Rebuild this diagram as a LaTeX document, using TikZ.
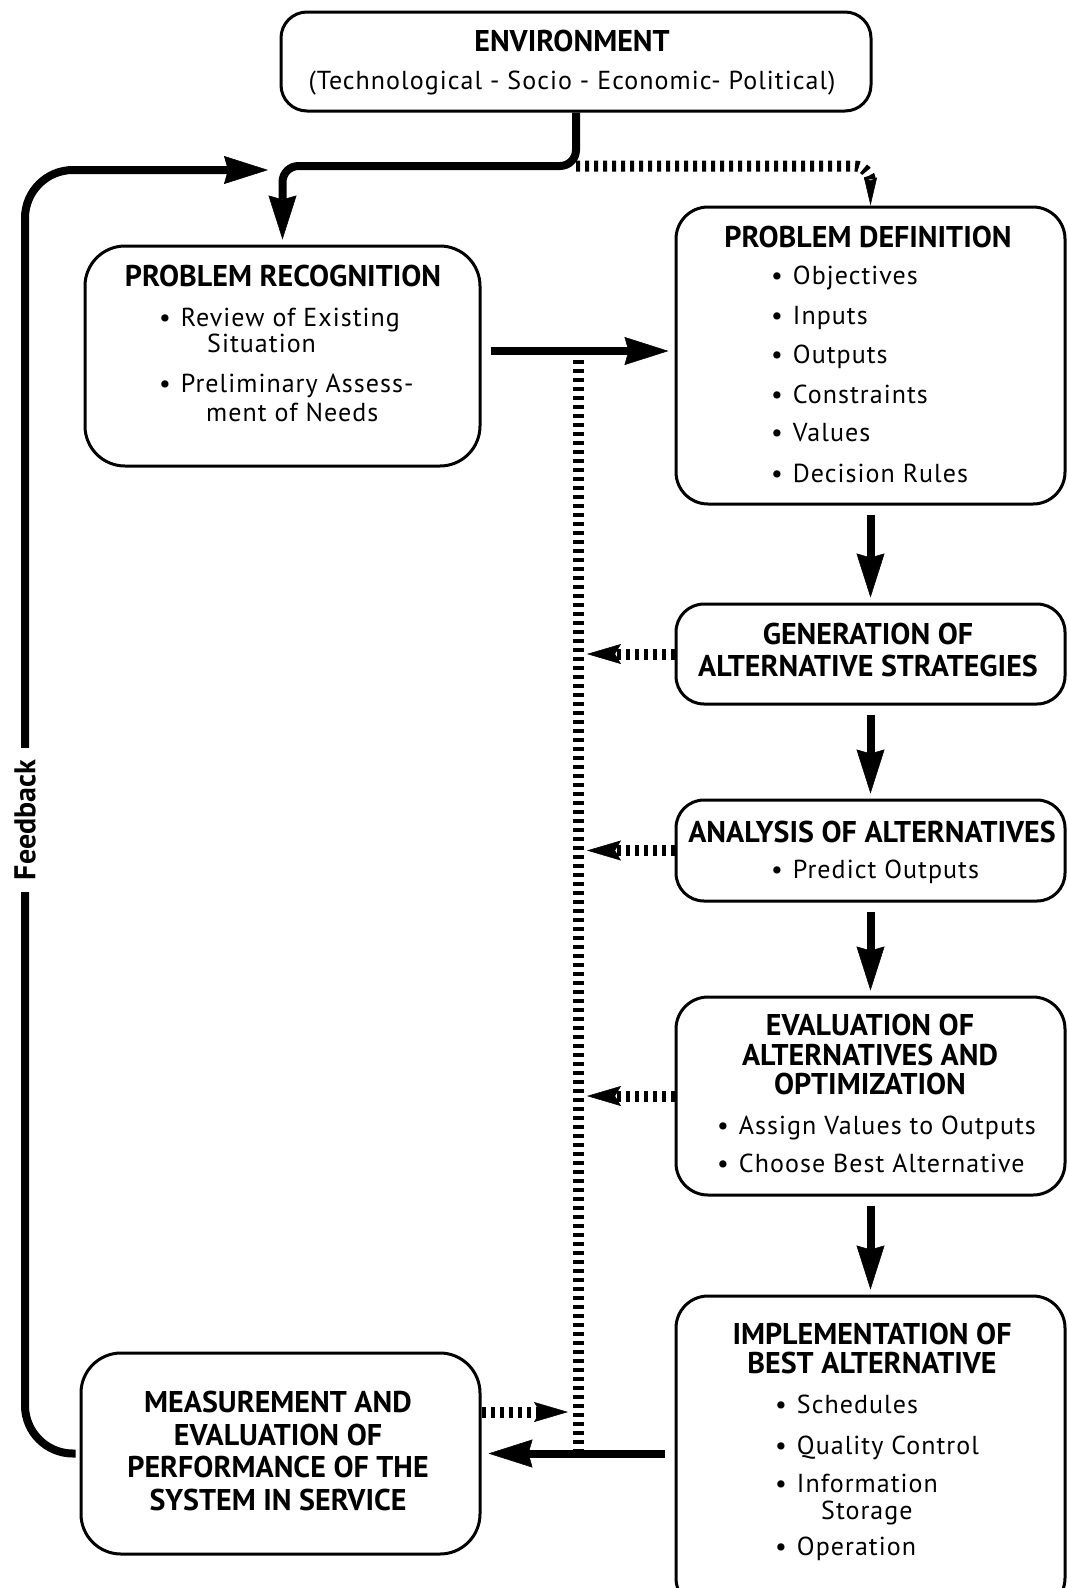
\documentclass[tikz,border=0pt]{standalone}
\usepackage{fontspec}
\setmainfont{PT Sans}
\newfontfamily\itmface[LetterSpace=4]{PT Sans}
\usetikzlibrary{arrows.meta}
\newcommand\ttlfont{\fontsize{30}{32}\selectfont\bfseries}
\newcommand\itmfont{\itmface\fontsize{26}{30}\selectfont}
\begin{document}
\begin{tikzpicture}[x=1pt,y=-1pt,
  box/.style={draw, line width=3pt, rounded corners=32pt, inner sep=0pt},
  ttl/.style={font=\ttlfont, align=center, inner sep=0pt},
  itm/.style={font=\itmfont, anchor=base west, inner sep=0pt},
  flow/.style={line width=8pt, -{Stealth[length=44pt,width=28pt,inset=4pt,line width=0.5pt]}},
  hint/.style={line width=11pt, dash pattern=on 4pt off 5pt,
    -{Stealth[length=34pt,width=20pt,inset=6pt,line width=0.5pt]}},
  hintthin/.style={line width=11pt, dash pattern=on 4pt off 5pt,
    -{Stealth[length=28pt,width=13pt,inset=3pt,line width=0.5pt]}},
  bus/.style={line width=11pt, dash pattern=on 4pt off 5pt},
]
\clip (0,0) rectangle (1068,1588);
\fill[white] (0,0) rectangle (1068,1588);

% boxes
\node[box, minimum width=590pt, minimum height=99pt, rounded corners=26pt] (env) at (576,61.5) {};
\node[box, minimum width=395pt, minimum height=220pt, rounded corners=40pt] (pr) at (282.5,356) {};
\node[box, minimum width=389pt, minimum height=297pt] (pd) at (870.5,355.5) {};
\node[box, minimum width=389pt, minimum height=100pt, rounded corners=28pt] (gen) at (870.5,654) {};
\node[box, minimum width=389pt, minimum height=101pt, rounded corners=28pt] (ana) at (870.5,850.5) {};
\node[box, minimum width=389pt, minimum height=198pt] (eval) at (870.5,1096) {};
\node[box, minimum width=389pt, minimum height=314pt] (impl) at (870.5,1453) {};
\node[box, minimum width=399pt, minimum height=201pt, rounded corners=40pt] (meas) at (280.5,1453.5) {};

% texts
\node[ttl] (envT) at (572,40.5) {ENVIRONMENT};
\node[itm, anchor=base] (envS) at (572,89) {(Technological - Socio - Economic- Political)};

\node[ttl] (prT) at (283,276) {PROBLEM RECOGNITION};
\node[itm] (pr1) at (159,326) {\textbullet\hspace{10pt}Review of Existing};
\node[itm] (pr1b) at (207,352) {Situation};
\node[itm] (pr2) at (159,392) {\textbullet\hspace{10pt}Preliminary Assess-};
\node[itm] (pr2b) at (206,421) {ment of Needs};

\node[ttl] (pdT) at (868,237) {PROBLEM DEFINITION};
\node[itm] (pd1) at (771,284) {\textbullet\hspace{10pt}Objectives};
\node[itm] (pd2) at (771,324) {\textbullet\hspace{10pt}Inputs};
\node[itm] (pd3) at (771,363) {\textbullet\hspace{10pt}Outputs};
\node[itm] (pd4) at (771,403) {\textbullet\hspace{10pt}Constraints};
\node[itm] (pd5) at (771,441) {\textbullet\hspace{10pt}Values};
\node[itm] (pd6) at (771,482) {\textbullet\hspace{10pt}Decision Rules};

\node[ttl] (genT) at (868,650) {GENERATION OF\\ALTERNATIVE STRATEGIES};

\node[ttl] (anaT) at (872,832) {ANALYSIS OF ALTERNATIVES};
\node[itm] (ana1) at (771,878) {\textbullet\hspace{10pt}Predict Outputs};

\node[ttl] (evT) at (870,1054.5) {EVALUATION OF\\[-2.5pt]ALTERNATIVES AND\\[-2.5pt]OPTIMIZATION};
\node[itm] (ev1) at (717,1134) {\textbullet\hspace{10pt}Assign Values to Outputs};
\node[itm] (ev2) at (717,1172) {\textbullet\hspace{10pt}Choose Best Alternative};

\node[ttl] (imT) at (872,1348.5) {IMPLEMENTATION OF\\[-3pt]BEST ALTERNATIVE};
\node[itm] (im1) at (775,1413) {\textbullet\hspace{10pt}Schedules};
\node[itm] (im2) at (775,1454) {\textbullet\hspace{10pt}Quality Control};
\node[itm] (im3) at (775,1492) {\textbullet\hspace{10pt}Information};
\node[itm] (im3b) at (821,1519) {Storage};
\node[itm] (im4) at (775,1555) {\textbullet\hspace{10pt}Operation};

\node[ttl] (meT) at (278,1451) {MEASUREMENT AND\\[0.7pt]EVALUATION OF\\[0.7pt]PERFORMANCE OF THE\\[0.7pt]SYSTEM IN SERVICE};

% junction points
\coordinate (split) at (env.south |- 0,166);
\coordinate (busTop) at (578,351);
\coordinate (busBot) at (578,1453);
\coordinate (fbTip) at (268,170);

% dotted information bus
\draw[bus] (busTop) -- (busBot);
\draw[hintthin, rounded corners=16pt] (split) -- (pd.north |- split) -- (pd.north);

% main flow
\draw[flow, rounded corners=16pt, shorten >=5pt] (env.south) -- (split) -- (pr.north |- split) -- (pr.north);
\draw[flow, shorten <=9pt, shorten >=6pt] (pr.east |- busTop) -- (pd.west |- busTop);
\draw[flow, shorten <=9pt, shorten >=5pt] (pd.south) -- (gen.north);
\draw[flow, shorten <=9pt, shorten >=5pt] (gen.south) -- (ana.north);
\draw[flow, shorten <=9pt, shorten >=5pt] (ana.south) -- (eval.north);
\draw[flow, shorten <=9pt, shorten >=5pt] (eval.south) -- (impl.north);
\draw[flow, shorten <=10pt, shorten >=7pt] (impl.west |- meas.east) -- (meas.east);

% side information arrows
\draw[hint, shorten >=9pt] (gen.west) -- (gen.west -| busTop);
\draw[hint, shorten >=9pt] (ana.west) -- (ana.west -| busTop);
\draw[hint, shorten >=9pt] (eval.west) -- (eval.west -| busTop);
\draw[hint, shorten >=10pt] (meas.east |- 0,1412) -- (busTop |- 0,1412);

% feedback loop
\draw[flow, rounded corners=48pt, shorten <=4pt] (meas.west) -- (meas.west -| 25,0) -- (25,170) -- (fbTip);
\node[fill=white, rotate=90, font=\fontsize{30}{34}\selectfont\bfseries, inner xsep=12pt, inner ysep=3pt] (fb) at (25,820) {Feedback};
\end{tikzpicture}
\end{document}
